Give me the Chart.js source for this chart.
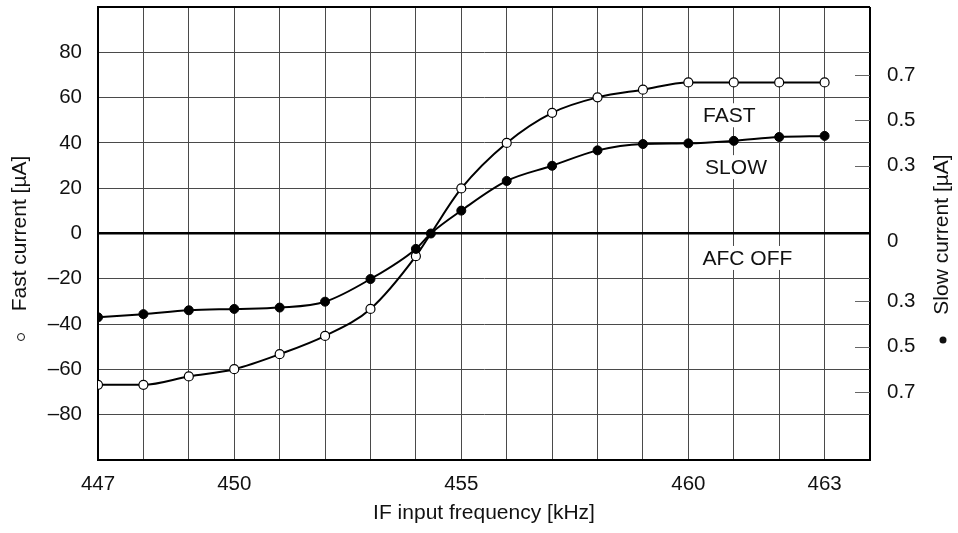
<!DOCTYPE html>
<html>
<head>
<meta charset="utf-8">
<script src="https://cdn.jsdelivr.net/npm/chart.js@4/dist/chart.umd.min.js"></script>
<style>
  html, body { margin: 0; padding: 0; background: #fff; }
  #wrap { width: 958px; height: 533px; }
</style>
</head>
<body>
<div id="wrap"><canvas id="c" width="958" height="533"></canvas></div>
<script>
// ---- data ----
const freqs      = [447, 448, 449, 450, 451, 452, 453, 454, 454.33, 455, 456, 457, 458, 459, 460, 461, 462, 463];
const fastValues = [-66.8, -66.8, -63.1, -59.9, -53.3, -45.2, -33.3, -10.0, 0, 19.9, 40.0, 53.3, 60.1, 63.5, 66.7, 66.7, 66.7, 66.7];
const slowValues = [-37.0, -35.6, -33.9, -33.3, -32.7, -30.1, -20.1, -6.8, 0, 10.1, 23.2, 29.9, 36.7, 39.5, 39.8, 40.9, 42.6, 43.1];
const fastMarkerShown = [1,1,1,1,1,1,1,1,0,1,1,1,1,1,1,1,1,1];

const xGridValues    = [447,448,449,450,451,452,453,454,455,456,457,458,459,460,461,462,463,464];
const xLabelValues   = [447, 450, 455, 460, 463];
const yLeftTicks     = [-100, -80, -60, -40, -20, 0, 20, 40, 60, 80, 100];
const yLeftLabelled  = [-80, -60, -40, -20, 0, 20, 40, 60, 80];
const rightTickValues = [70, 50, 30, -30, -50, -70];
const rightTickLabels = ['0.7', '0.5', '0.3', '0.3', '0.5', '0.7'];
const rightZeroLabel  = '0';

const xTitle = 'IF input frequency [kHz]';
const leftTitle = 'Fast current [\u00B5A]';
const rightTitle = 'Slow current [\u00B5A]';

const annotations = [
  { text: 'FAST',    x: 460.9,  y: 52.2 },
  { text: 'SLOW',    x: 461.05, y: 29.3 },
  { text: 'AFC OFF', x: 461.3,  y: -10.8 }
];

// ---- styling ----
const FONT = '"Liberation Sans", Arial, Helvetica, sans-serif';
const FS = 20.5;
const FT = 21;
const INK = '#111';
const GRID = '#4a4a4a';

const toPts = (xs, ys) => xs.map((x, i) => ({ x: x, y: ys[i] }));
const dash = v => (v < 0 ? '\u2013' + Math.abs(v) : String(v));

const decorPlugin = {
  id: 'decor',
  beforeDatasetsDraw(chart) {
    const ctx = chart.ctx, xs = chart.scales.x, ys = chart.scales.y;
    ctx.save();
    ctx.font = FT + 'px ' + FONT;
    ctx.textAlign = 'center';
    ctx.textBaseline = 'middle';
    annotations.forEach(a => {
      const px = xs.getPixelForValue(a.x), py = ys.getPixelForValue(a.y);
      const w = ctx.measureText(a.text).width;
      ctx.fillStyle = '#fff';
      ctx.fillRect(px - w / 2 - 3, py - 12, w + 6, 24);
      ctx.fillStyle = INK;
      ctx.fillText(a.text, px, py + 1);
    });
    ctx.restore();
  },
  afterDraw(chart) {
    const ctx = chart.ctx, area = chart.chartArea, y2 = chart.scales.y2;
    ctx.save();
    ctx.strokeStyle = '#666';
    ctx.lineWidth = 1;
    rightTickValues.forEach(v => {
      const py = Math.round(y2.getPixelForValue(v)) + 0.5;
      ctx.beginPath();
      ctx.moveTo(area.right - 15, py);
      ctx.lineTo(area.right, py);
      ctx.stroke();
    });
    ctx.fillStyle = INK;
    ctx.font = FS + 'px ' + FONT;
    ctx.textAlign = 'left';
    ctx.textBaseline = 'middle';
    ctx.fillText(rightZeroLabel, area.right + 17, y2.getPixelForValue(0) + 8);
    ctx.font = FT + 'px ' + FONT;
    ctx.textAlign = 'center';
    ctx.fillText(xTitle, (area.left + area.right) / 2, 513);
    ctx.save();
    ctx.translate(20, (area.top + area.bottom) / 2);
    ctx.rotate(-Math.PI / 2);
    ctx.fillText(leftTitle, 0, 0);
    ctx.restore();
    ctx.save();
    ctx.translate(942, (area.top + area.bottom) / 2 + 1);
    ctx.rotate(-Math.PI / 2);
    ctx.fillText(rightTitle, 0, 0);
    ctx.restore();
    ctx.beginPath();
    ctx.arc(21, 337, 3.5, 0, Math.PI * 2);
    ctx.fillStyle = '#fff';
    ctx.fill();
    ctx.strokeStyle = INK;
    ctx.lineWidth = 1;
    ctx.stroke();
    ctx.beginPath();
    ctx.arc(943, 340, 3.5, 0, Math.PI * 2);
    ctx.fillStyle = INK;
    ctx.fill();
    ctx.restore();
  }
};

const noVPad = s => { s.paddingTop = 0; s.paddingBottom = 0; };

new Chart(document.getElementById('c'), {
  type: 'line',
  data: {
    datasets: [
      {
        label: 'SLOW',
        data: toPts(freqs, slowValues),
        borderColor: '#000',
        borderWidth: 2,
        backgroundColor: '#000',
        pointBackgroundColor: '#000',
        pointBorderColor: '#000',
        pointBorderWidth: 1,
        pointRadius: 4.5,
        cubicInterpolationMode: 'monotone',
        yAxisID: 'y',
        fill: false
      },
      {
        label: 'FAST',
        data: toPts(freqs, fastValues),
        borderColor: '#000',
        borderWidth: 2,
        backgroundColor: '#fff',
        pointBackgroundColor: '#fff',
        pointBorderColor: '#000',
        pointBorderWidth: 1.2,
        pointRadius: fastMarkerShown.map(s => (s ? 4.5 : 0)),
        cubicInterpolationMode: 'monotone',
        yAxisID: 'y',
        fill: false
      }
    ]
  },
  options: {
    responsive: false,
    animation: false,
    layout: { padding: { top: 7, left: 0, right: 0, bottom: 0 } },
    plugins: { legend: { display: false }, tooltip: { enabled: false } },
    scales: {
      x: {
        type: 'linear',
        position: 'bottom',
        min: 447,
        max: 464,
        afterBuildTicks: s => { s.ticks = xGridValues.map(v => ({ value: v })); },
        afterFit: s => { s.height = 73; s.paddingLeft = 0; s.paddingRight = 0; },
        ticks: {
          autoSkip: false,
          maxRotation: 0,
          padding: 12,
          color: INK,
          font: { family: FONT, size: FS },
          callback: v => (xLabelValues.includes(v) ? String(v) : '')
        },
        grid: {
          drawTicks: false,
          color: c => (c.tick && c.tick.value === 464 ? '#000' : GRID),
          lineWidth: c => (c.tick && c.tick.value === 464 ? 2 : 1)
        },
        border: { display: true, color: '#000', width: 2 }
      },
      y: {
        type: 'linear',
        position: 'left',
        min: -100,
        max: 100,
        afterBuildTicks: s => { s.ticks = yLeftTicks.map(v => ({ value: v })); },
        afterFit: s => { s.width = 98; noVPad(s); },
        ticks: {
          autoSkip: false,
          padding: 16,
          color: INK,
          font: { family: FONT, size: FS },
          callback: v => (yLeftLabelled.includes(v) ? dash(v) : '')
        },
        grid: {
          drawTicks: false,
          color: c => {
            const v = c.tick ? c.tick.value : null;
            return (v === 0 || v === 100 || v === -100) ? '#000' : GRID;
          },
          lineWidth: c => {
            const v = c.tick ? c.tick.value : null;
            if (v === 0) return 2.5;
            if (v === 100 || v === -100) return 2;
            return 1;
          }
        },
        border: { display: true, color: '#000', width: 2 }
      },
      y2: {
        type: 'linear',
        position: 'right',
        min: -100,
        max: 100,
        afterBuildTicks: s => { s.ticks = rightTickValues.map(v => ({ value: v })); },
        afterFit: s => { s.width = 88; noVPad(s); },
        ticks: {
          autoSkip: false,
          padding: 17,
          color: INK,
          font: { family: FONT, size: FS },
          callback: (v, i) => rightTickLabels[i]
        },
        grid: { display: true, drawOnChartArea: false, drawTicks: false },
        border: { display: false }
      }
    }
  },
  plugins: [decorPlugin]
});
</script>
</body>
</html>
